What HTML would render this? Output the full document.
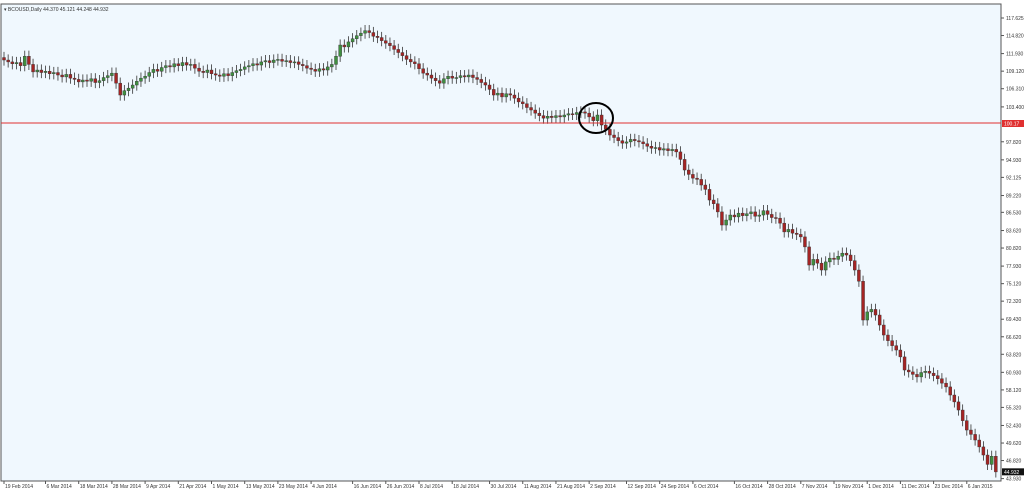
<!DOCTYPE html>
<html><head><meta charset="utf-8"><style>
html,body{margin:0;padding:0;background:#fff;}
svg{display:block;font-family:"Liberation Sans",sans-serif;}
</style></head><body>
<svg id="chart" width="1024" height="491" viewBox="0 0 1024 491" xmlns="http://www.w3.org/2000/svg">
<rect x="0" y="0" width="1024" height="491" fill="#ffffff"/>
<rect x="1" y="4" width="1000" height="477" fill="#f0f8fe" stroke="#555" stroke-width="1"/>
<text x="4" y="11" font-size="5" fill="#333">▾ BCOUSD,Daily  44.370 45.121 44.248 44.932</text>
<g id="candles"></g>
<line x1="1" y1="123" x2="1001" y2="123" stroke="#e03030" stroke-width="1"/>
<ellipse cx="596" cy="118" rx="17" ry="15" fill="none" stroke="#000" stroke-width="2"/>
<g id="yaxis"></g>
<g id="xaxis"></g>
</svg>
<script>
const closes=[110.9,110.6,110.3,110.5,110.0,111.5,110.2,109.0,109.3,108.9,
109.1,108.7,108.9,108.5,108.2,108.6,108.0,107.8,107.4,107.7,
107.5,107.9,107.3,107.6,108.1,108.4,108.8,107.2,105.3,106.0,
106.4,106.9,107.5,108.0,108.3,108.9,109.4,109.1,109.7,110.0,
109.8,110.3,110.0,110.5,110.1,110.2,109.6,109.1,108.9,109.3,
108.7,108.5,108.3,108.7,108.4,108.9,109.2,109.4,109.8,110.0,
110.3,110.1,110.6,110.8,110.5,110.9,111.0,110.7,110.8,110.5,
110.6,110.2,110.0,109.6,109.4,109.1,109.5,109.3,109.8,110.2,
111.5,113.3,113.0,113.8,114.3,114.8,115.2,115.6,115.3,114.7,
114.5,114.0,113.6,113.2,112.6,112.1,111.6,111.0,110.6,110.3,
109.5,108.8,108.5,108.0,107.6,107.2,107.9,108.3,108.0,108.1,
108.4,108.2,108.5,108.1,107.8,107.3,106.9,106.2,105.3,105.6,
105.0,105.5,105.3,104.8,104.2,103.9,103.3,102.9,102.4,102.0,
101.6,101.9,101.7,102.0,101.8,102.1,102.3,102.2,102.5,102.6,
102.4,101.8,101.2,102.1,100.5,99.8,98.9,98.5,98.0,97.6,
97.8,98.2,98.0,97.8,97.5,97.1,96.8,96.9,96.5,96.7,
96.4,96.6,96.2,95.0,93.3,92.6,92.0,91.8,90.9,90.2,
88.5,87.9,86.6,84.5,85.3,86.1,85.8,86.4,86.0,86.3,
86.6,85.9,86.1,86.8,86.2,85.7,85.6,84.8,83.4,83.8,
83.2,83.0,82.6,81.0,78.1,79.0,78.4,77.3,78.6,79.2,
79.0,79.5,80.0,79.7,78.8,77.3,75.5,69.3,70.6,71.0,
70.1,68.5,66.9,66.0,65.2,64.5,63.4,61.3,61.0,60.6,
60.2,60.9,61.1,60.8,60.4,59.9,59.2,58.6,57.3,56.2,
54.9,53.2,51.7,51.0,50.1,49.0,47.7,46.2,47.5,45.0];
const firstOpen=111.3;
const yTicks=["117.625","114.820","111.930","109.120","106.310","103.400","97.820","94.930","92.125","89.220","86.530","83.620","80.820","77.930","75.120","72.320","69.430","66.620","63.820","60.930","58.120","55.320","52.430","49.620","46.820","43.930"];
const dateLabels=["19 Feb 2014","6 Mar 2014","18 Mar 2014","28 Mar 2014","9 Apr 2014","21 Apr 2014","1 May 2014","13 May 2014","23 May 2014","4 Jun 2014","16 Jun 2014","26 Jun 2014","8 Jul 2014","18 Jul 2014","30 Jul 2014","11 Aug 2014","21 Aug 2014","2 Sep 2014","12 Sep 2014","24 Sep 2014","6 Oct 2014","16 Oct 2014","28 Oct 2014","7 Nov 2014","19 Nov 2014","1 Dec 2014","11 Dec 2014","23 Dec 2014","6 Jan 2015"];
const dateIndex=[0,10,18,26,34,42,50,58,66,74,84,92,100,108,117,125,133,141,150,158,166,176,184,192,200,208,216,224,232];
const supportPrice=100.17;
const lastPrice=44.932;

const NS="http://www.w3.org/2000/svg";
const yOf=p=>18+(117.625-p)*6.25;
const xOf=i=>4+i*4.15;
function mk(tag,attrs,parent){const e=document.createElementNS(NS,tag);for(const k in attrs)e.setAttribute(k,attrs[k]);parent.appendChild(e);return e;}

const cg=document.getElementById('candles');
closes.forEach((c,i)=>{
  const o=i===0?firstOpen:closes[i-1];
  const hi=Math.max(o,c)+0.9, lo=Math.min(o,c)-0.9;
  const x=xOf(i);
  const bull=c>=o;
  const col=bull?'#3f8f3f':'#a42424';
  const w=mk('line',{x1:x,x2:x,y1:yOf(hi),y2:yOf(lo),stroke:'#333','stroke-width':0.8},cg);
  
  
  const top=yOf(Math.max(o,c)), h=Math.max(1,yOf(Math.min(o,c))-top);
  const b=mk('rect',{x:x-1.5,y:top,width:3,height:h,fill:col,stroke:'#333','stroke-width':0.4},cg);
  
  
});

const yg=document.getElementById('yaxis');
yTicks.forEach(t=>{
  const y=yOf(parseFloat(t));
  const l=mk('line',{x1:1001,x2:1004,y1:y,y2:y,stroke:'#555'},yg);
  
  
  const tx=mk('text',{x:1006,y:y+2,'font-size':5,fill:'#333'},yg);
  tx.textContent=t;
  
  
});
const sr=mk('rect',{x:1002,y:120,width:22,height:7,fill:'#e03030'},yg);


const st=mk('text',{x:1004,y:125.5,'font-size':5,fill:'#fff'},yg);
st.textContent=supportPrice.toFixed(2);


const ly=yOf(lastPrice);
const lr=mk('rect',{x:1002,y:ly-4,width:22,height:7,fill:'#111'},yg);


const lt=mk('text',{x:1004,y:ly+1.5,'font-size':5,fill:'#fff'},yg);
lt.textContent=lastPrice.toFixed(3);



const xg=document.getElementById('xaxis');
dateLabels.forEach((d,k)=>{
  const x=xOf(dateIndex[k]);
  const l=mk('line',{x1:x,x2:x,y1:481,y2:484,stroke:'#555'},xg);
  
  
  const t=mk('text',{x:x+1,y:488,'font-size':5,fill:'#333'},xg);
  t.textContent=d;
  
  
});
</script>
</body></html>
